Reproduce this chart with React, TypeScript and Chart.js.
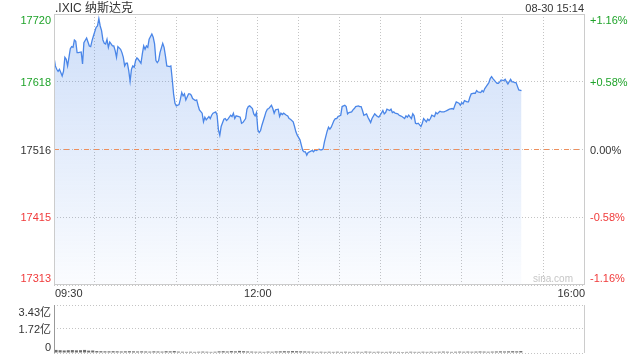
import React, { useEffect, useRef } from "react";
import { Chart, registerables } from "chart.js";

Chart.register(...registerables);

// minutes since 09:30
const minutes = [
  0, 1, 2, 3, 4, 5, 6, 7, 8, 9, 10, 11, 12, 13, 14, 15, 16, 17, 18, 20, 21, 22, 24, 25, 26, 27, 28, 29, 31, 32,
  33, 34, 35, 36, 37, 38, 39, 40, 41, 42, 43, 44, 45, 46, 47, 49, 50, 51, 52, 53, 54, 55, 56, 57, 58, 59, 60, 61, 62, 64,
  65, 66, 67, 68, 69, 70, 72, 73, 74, 75, 76, 77, 78, 80, 81, 82, 83, 85, 86, 87, 88, 89, 90, 92, 93, 94, 95, 96, 97, 99,
  100, 101, 102, 104, 105, 106, 107, 109, 110, 111, 112, 114, 115, 116, 117, 119, 120, 121, 122, 123, 125, 126, 127, 128, 130, 131, 132, 133, 134, 136,
  137, 138, 139, 141, 142, 143, 144, 146, 147, 148, 149, 150, 151, 152, 153, 155, 156, 157, 158, 160, 161, 162, 163, 165, 166, 167, 168, 169, 171, 172,
  173, 174, 176, 177, 178, 179, 181, 182, 183, 184, 185, 186, 187, 188, 190, 191, 192, 193, 195, 196, 197, 198, 199, 201, 202,
  203, 204, 206, 207, 208, 209, 211, 212, 214, 215, 216, 217, 219, 220, 221, 222, 224, 225, 226, 227, 228, 230, 231, 232, 233, 234, 236, 237, 238, 239,
  240, 242, 243, 244, 245, 247, 248, 249, 250, 251, 253, 254, 255, 256, 258, 259, 260, 261, 263, 264, 265, 266, 267, 268, 270, 271, 272, 274, 275, 276,
  277, 278, 280, 281, 282, 283,
  284, 285, 287, 288, 289, 290, 291, 293, 294, 295, 296, 298, 299, 300, 301, 302, 304, 305, 306, 307, 309, 310, 311, 312, 314, 315, 316, 317, 318, 320,
  321, 322, 323, 325, 326, 327, 328, 329, 331, 332, 333, 334, 336, 337, 338, 339, 340, 342, 344,
];

const prices = [
  17655, 17642, 17637, 17634, 17637, 17632, 17627, 17634, 17655, 17652,
  17642, 17655, 17668, 17671, 17670, 17681, 17679, 17662, 17662, 17663,
  17645, 17677, 17684, 17678, 17672, 17671, 17680, 17687, 17700, 17702,
  17713, 17702, 17695, 17681, 17676, 17675, 17682, 17670, 17678, 17675,
  17672, 17672, 17665, 17655, 17671, 17667, 17662, 17655, 17642, 17646,
  17646, 17635, 17619, 17637, 17642, 17640, 17650, 17654, 17652, 17646,
  17660, 17672, 17667, 17672, 17670, 17682, 17690, 17685, 17675, 17650,
  17647, 17650, 17662, 17676, 17670, 17657, 17642, 17641, 17642, 17622,
  17600, 17586, 17582, 17584, 17592, 17602, 17597, 17600, 17591, 17600,
  17600, 17598, 17593, 17590, 17591, 17583, 17576, 17571, 17558, 17565,
  17561, 17566, 17563, 17568, 17571, 17573, 17568, 17546, 17538, 17551,
  17562, 17563, 17560, 17562, 17568, 17566, 17571, 17563, 17567, 17566,
  17565, 17556, 17557, 17563, 17577, 17581, 17582, 17578, 17570, 17567,
  17572, 17546, 17542, 17545, 17553, 17566, 17573, 17577, 17578, 17583,
  17578, 17571, 17576, 17577, 17566, 17571, 17569, 17571, 17568, 17567,
  17563, 17562, 17558, 17551, 17543, 17538, 17531, 17523, 17515, 17513,
  17513, 17508, 17512, 17513, 17515, 17513, 17516, 17515, 17517, 17516,
  17516, 17517, 17528, 17544, 17550,
  17547, 17550, 17560, 17563, 17563, 17566, 17568, 17581, 17583, 17581,
  17570, 17572, 17573, 17576, 17578, 17581, 17582, 17581, 17581, 17575,
  17568, 17570, 17565, 17561, 17557, 17563, 17570, 17568, 17566, 17565,
  17568, 17575, 17570, 17572, 17577, 17575, 17577, 17572, 17573, 17571,
  17570, 17568, 17567, 17566, 17563, 17567, 17565, 17568, 17563, 17570,
  17567, 17556, 17555, 17556, 17551, 17556, 17563, 17558, 17562, 17560,
  17563, 17568, 17566, 17572, 17570, 17572,
  17574, 17573, 17573, 17574, 17575, 17576, 17577, 17578, 17577, 17583,
  17588, 17586, 17583, 17587, 17585, 17590, 17588, 17588, 17595, 17600,
  17601, 17601, 17605, 17603, 17602, 17605, 17603, 17608, 17611, 17617,
  17623, 17626, 17623, 17618, 17616, 17616, 17618, 17621, 17620, 17622,
  17618, 17615, 17622, 17618, 17618, 17617, 17617, 17606, 17605,
];

const prevClose = 17516.5;
const priceTicks = [17313, 17415, 17516, 17618, 17720];
const pctLabels = ["-1.16%", "-0.58%", "0.00%", "+0.58%", "+1.16%"];
const timeTicks = [0, 150, 390];
const timeLabels = ["09:30", "12:00", "16:00"];

// volume in 亿, one bar per 3 minutes
const volumes = [
  0.22, 0.2, 0.18, 0.2, 0.21, 0.19, 0.2, 0.22, 0.17, 0.18,
  0.14, 0.13, 0.12, 0.12, 0.13, 0.12, 0.11, 0.12, 0.13, 0.12,
  0.11, 0.12, 0.11, 0.1, 0.12, 0.11, 0.1, 0.13, 0.12, 0.14,
  0.1, 0.09, 0.08, 0.09, 0.08, 0.09, 0.1, 0.09, 0.08, 0.09,
  0.12, 0.13, 0.11, 0.14, 0.12, 0.15, 0.13, 0.11, 0.1, 0.09,
  0.09, 0.08, 0.1, 0.09, 0.11, 0.12, 0.13, 0.12, 0.14, 0.13,
  0.12, 0.11, 0.1, 0.09, 0.08, 0.09, 0.08, 0.09, 0.08, 0.09,
  0.08, 0.09, 0.08, 0.08, 0.09, 0.08, 0.1, 0.09, 0.08, 0.09,
  0.08, 0.08, 0.09, 0.08, 0.08, 0.07, 0.08, 0.09, 0.08, 0.08,
  0.09, 0.08, 0.09, 0.08, 0.09, 0.1, 0.09, 0.08, 0.09, 0.1,
  0.09, 0.1, 0.09, 0.1, 0.11, 0.1, 0.09, 0.1, 0.11, 0.12,
  0.11, 0.12, 0.13, 0.12, 0.14,
];
const volStep = 3;
const volTicks = [0, 1.72, 3.43];
const volLabels = ["0", "1.72亿", "3.43亿"];

const titleText = ".IXIC 纳斯达克";
const stampText = "08-30 15:14";
const watermarkText = "sina.com";

const GREEN = "#1fa32a";
const RED = "#f03a3a";
const DARK = "#333333";
const FONT = "'Liberation Sans', Arial, 'Noto Sans CJK SC', sans-serif";

function txt(ctx: CanvasRenderingContext2D, t: string, x: number, y: number, align: CanvasTextAlign, color: string, size: number) {
  ctx.font = `${size}px ${FONT}`;
  ctx.textAlign = align;
  ctx.textBaseline = "alphabetic";
  ctx.fillStyle = color;
  ctx.fillText(t, x, y);
}

const tickColor = (v: number) => (Math.abs(v - prevClose) < 1 ? DARK : v > prevClose ? GREEN : RED);

const mainDecor = {
  id: "mainDecor",
  afterDatasetsDraw(chart: any) {
    const { ctx, chartArea: a, scales } = chart;
    const py = Math.floor(scales.y.getPixelForValue(prevClose)) + 0.5;
    ctx.save();
    ctx.strokeStyle = "#ee8f5c";
    ctx.lineWidth = 1;
    ctx.setLineDash([5, 5]);
    ctx.beginPath();
    ctx.moveTo(a.left, py);
    ctx.lineTo(a.right, py);
    ctx.stroke();
    ctx.restore();
  },
  afterDraw(chart: any) {
    const { ctx, chartArea: a, scales } = chart;
    const x = scales.x;
    const y = scales.y;
    ctx.save();
    ctx.setLineDash([]);
    ctx.strokeStyle = "#cccccc";
    ctx.lineWidth = 1;
    ctx.strokeRect(Math.round(a.left) + 0.5, Math.round(a.top) + 0.5, Math.round(a.right - a.left), Math.round(a.bottom - a.top) - 1);

    priceTicks.forEach((v, i) => {
      const py = y.getPixelForValue(v);
      let base = py + 4;
      if (i === priceTicks.length - 1) base = py + 10;
      if (i === 0) base = py - 3;
      const col = tickColor(v);
      txt(ctx, String(v), a.left - 3, base, "right", col, 11);
      txt(ctx, pctLabels[i], a.right + 6, base, "left", col, 11);
    });

    timeTicks.forEach((t, i) => {
      const px = x.getPixelForValue(t);
      const align: CanvasTextAlign = i === 0 ? "left" : i === timeTicks.length - 1 ? "right" : "center";
      const off = i === 0 ? 1 : i === timeTicks.length - 1 ? 1 : 0;
      txt(ctx, timeLabels[i], px + off, a.bottom + 12, align, DARK, 11);
    });

    txt(ctx, titleText, a.left + 1, 12, "left", DARK, 12);
    txt(ctx, stampText, a.right, 12, "right", DARK, 11);
    txt(ctx, watermarkText, a.right - 11, a.bottom - 3, "right", "#c6c6c6", 10);
    ctx.restore();
  },
};

const volDecor = {
  id: "volDecor",
  afterDraw(chart: any) {
    const { ctx, chartArea: a, scales } = chart;
    const y = scales.y;
    ctx.save();
    ctx.setLineDash([]);
    ctx.lineWidth = 1;
    ctx.strokeStyle = "#9a9a9a";
    ctx.beginPath();
    ctx.moveTo(Math.round(a.left) + 0.5, a.top);
    ctx.lineTo(Math.round(a.left) + 0.5, a.bottom);
    ctx.stroke();
    ctx.strokeStyle = "#cccccc";
    ctx.beginPath();
    ctx.moveTo(Math.round(a.right) + 0.5, a.top);
    ctx.lineTo(Math.round(a.right) + 0.5, a.bottom);
    ctx.stroke();

    volTicks.forEach((v, i) => {
      const py = y.getPixelForValue(v);
      let base = py + 4;
      if (i === volTicks.length - 1) base = py + 11;
      if (i === 0) base = py - 2;
      txt(ctx, volLabels[i], a.left - 3, base, "right", DARK, 11);
    });
    ctx.restore();
  },
};

export default function App() {
  const mainRef = useRef<HTMLCanvasElement>(null);
  const volRef = useRef<HTMLCanvasElement>(null);

  useEffect(() => {
    if (!mainRef.current || !volRef.current) return;

    const gridStyle = { color: "#c4c4c4", lineWidth: 1, drawTicks: false };

    const main = new Chart(mainRef.current, {
      type: "line",
      data: {
        datasets: [
          {
            data: minutes.map((m, i) => ({ x: m, y: prices[i] })),
            borderColor: "#4a86e8",
            borderWidth: 1.3,
            pointRadius: 0,
            tension: 0,
            fill: "start",
            backgroundColor: (c: any) => {
              const { chart } = c;
              const area = chart.chartArea;
              if (!area) return "rgba(74,134,232,0.2)";
              const g = chart.ctx.createLinearGradient(0, area.top, 0, area.bottom);
              g.addColorStop(0, "rgba(74,134,232,0.27)");
              g.addColorStop(0.5, "rgba(74,134,232,0.15)");
              g.addColorStop(1, "rgba(74,134,232,0.025)");
              return g;
            },
          },
        ],
      },
      options: {
        responsive: false,
        animation: false,
        devicePixelRatio: 1,
        events: [],
        layout: { padding: { left: 54, right: 56, top: 14, bottom: 75 } },
        plugins: { legend: { display: false }, tooltip: { enabled: false } },
        scales: {
          x: {
            type: "linear",
            min: 0,
            max: 390,
            offset: false,
            ticks: { display: false, stepSize: 30 },
            grid: gridStyle,
            border: { display: false, dash: [1, 2] },
          },
          y: {
            type: "linear",
            min: priceTicks[0],
            max: priceTicks[priceTicks.length - 1],
            afterBuildTicks: (s: any) => {
              s.ticks = priceTicks.map((v) => ({ value: v }));
            },
            ticks: { display: false },
            grid: gridStyle,
            border: { display: false, dash: [1, 2] },
          },
        },
      } as any,
      plugins: [mainDecor],
    });

    const vol = new Chart(volRef.current, {
      type: "bar",
      data: {
        datasets: [
          {
            data: volumes.map((v, i) => ({ x: i * volStep + volStep / 2, y: v })),
            backgroundColor: "#6e6e6e",
            barPercentage: 0.75,
            categoryPercentage: 1,
          },
        ],
      },
      options: {
        responsive: false,
        animation: false,
        devicePixelRatio: 1,
        events: [],
        layout: { padding: { left: 54, right: 56, top: 305, bottom: 7 } },
        plugins: { legend: { display: false }, tooltip: { enabled: false } },
        scales: {
          x: {
            type: "linear",
            min: 0,
            max: 390,
            offset: false,
            ticks: { display: false },
            grid: { display: false, drawTicks: false },
            border: { display: false },
          },
          y: {
            type: "linear",
            min: 0,
            max: volTicks[volTicks.length - 1],
            afterBuildTicks: (s: any) => {
              s.ticks = volTicks.map((v) => ({ value: v }));
            },
            ticks: { display: false },
            grid: gridStyle,
            border: { display: false, dash: [1, 2] },
          },
        },
      } as any,
      plugins: [volDecor],
    });

    return () => {
      main.destroy();
      vol.destroy();
    };
  }, []);

  return (
    <div style={{ position: "fixed", left: 0, top: 0, width: 640, height: 360, background: "#ffffff" }}>
      <canvas ref={mainRef} width={640} height={360} style={{ position: "absolute", left: 0, top: 0 }} />
      <canvas ref={volRef} width={640} height={360} style={{ position: "absolute", left: 0, top: 0 }} />
    </div>
  );
}
